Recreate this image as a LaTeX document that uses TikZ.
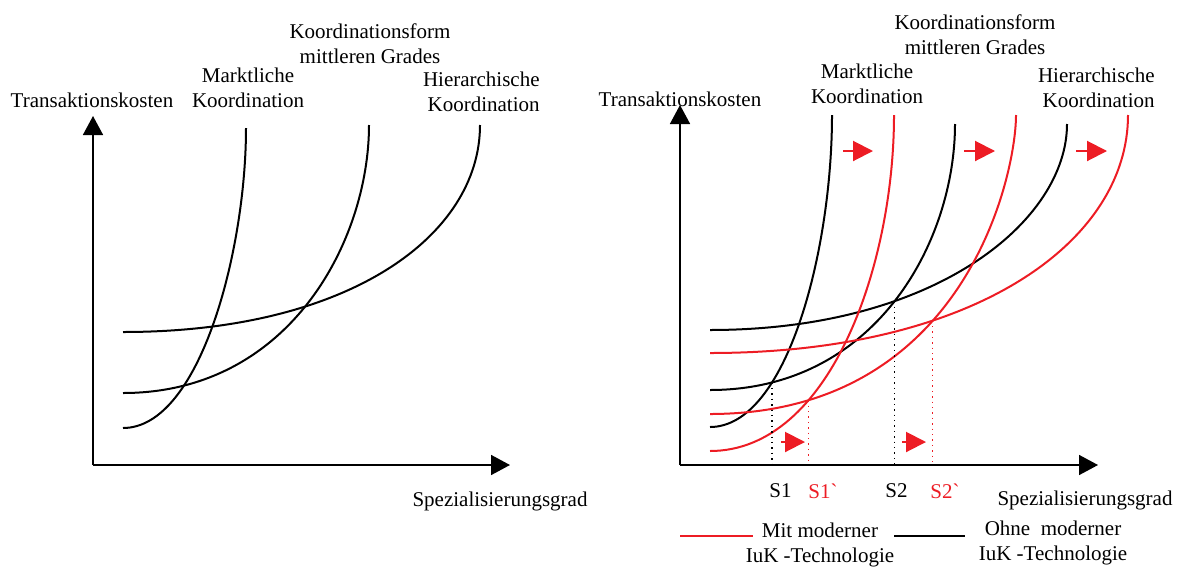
\documentclass[tikz,border=0pt]{standalone}
\usepackage{fontspec}
\setmainfont{Liberation Serif}
\usetikzlibrary{arrows.meta,positioning,intersections}
\definecolor{ikred}{RGB}{237,28,36}

\begin{document}
\begin{tikzpicture}[x=0.5pt, y=-0.5pt,
		every node/.style={font=\fontsize{10.5}{12.5}\selectfont, inner sep=0pt},
		lbl/.style={align=center},
		rlbl/.style={align=right, anchor=east},
		axis/.style={line width=0.8pt, -{Triangle[length=9.5pt, width=10pt]}},
		curve/.style={line width=1pt},
		newcurve/.style={curve, ikred},
		move/.style={ikred, line width=1pt, -{Triangle[length=10pt, width=10pt]}},
		drop/.style={dotted, line width=0.7pt},
		newdrop/.style={drop, ikred},
		tick/.style={anchor=west}
	]
		\useasboundingbox (0,0) rectangle (1181,568);

		% left: without technology
		\coordinate (o1) at (93,465);
		\coordinate (y1) at (93,116);
		\coordinate (x1) at (510,465);
		\draw[axis] (o1) -- (y1);
		\draw[axis] (o1) -- (x1);
		\draw[curve] (123,428) .. controls (200,428) and (246,250) .. (246,128);
		\draw[curve] (123,393) .. controls (290,393) and (369,240) .. (369,125);
		\draw[curve] (123,332) .. controls (350,332) and (480,235) .. (480,125);

		\node[lbl] (tk1) at (92,100) {Transaktionskosten};
		\node[lbl] (mk1) at (248,88) {Marktliche\\Koordination};
		\node[lbl] (mg1) at (370,44) {Koordinationsform\\mittleren Grades};
		\node[rlbl] (hk1) at (540,92) {Hierarchische\\Koordination};
		\node[lbl] (sg1) at (500,501) {Spezialisierungsgrad};

		% right: with and without technology
		\coordinate (o2) at (680,465);
		\coordinate (y2) at (680,105);
		\coordinate (x2) at (1098,465);
		\draw[axis] (o2) -- (y2);
		\draw[axis] (o2) -- (x2);
		\draw[curve, name path=bmarkt] (710,427) .. controls (787,427) and (832,250) .. (832,115);
		\draw[curve, name path=bmittel] (710,390) .. controls (877,390) and (955,240) .. (955,124);
		\draw[curve, name path=bhier] (710,330) .. controls (937,330) and (1067,220) .. (1067,124);
		\draw[newcurve, name path=rmarkt] (710,451) .. controls (830,451) and (894,265) .. (894,115);
		\draw[newcurve, name path=rmittel] (710,414) .. controls (965,414) and (1016,175) .. (1016,115);
		\draw[newcurve, name path=rhier] (710,353) .. controls (976,353) and (1128,241) .. (1128,115);

		\path[name intersections={of=bmarkt and bmittel, by=s1}];
		\path[name intersections={of=rmarkt and rmittel, by=s1n}];
		\path[name intersections={of=bmittel and bhier, by=s2}];
		\path[name intersections={of=rmittel and rhier, by=s2n}];
		\draw[drop] (s1) -- (s1 |- o2);
		\draw[newdrop] (s1n) -- (s1n |- o2);
		\draw[drop] (s2) -- (s2 |- o2);
		\draw[newdrop] (s2n) -- (s2n |- o2);

		\draw[move] (843,151) -- (873,151);
		\draw[move] (964,151) -- (995,151);
		\draw[move] (1076,151) -- (1107,151);
		\draw[move] (781,442) -- (805,442);
		\draw[move] (902,442) -- (926,442);

		\node[tick] (ts1) at (769,491) {S1};
		\node[tick, text=ikred] (ts1n) at (808,491) {S1\textasciigrave};
		\node[tick] (ts2) at (885,491) {S2};
		\node[tick, text=ikred] (ts2n) at (930,491) {S2\textasciigrave};

		\node[lbl] (tk2) at (680,99) {Transaktionskosten};
		\node[lbl] (mk2) at (867,84) {Marktliche\\Koordination};
		\node[lbl] (mg2) at (975,35) {Koordinationsform\\mittleren Grades};
		\node[rlbl] (hk2) at (1155,88) {Hierarchische\\Koordination};
		\node[lbl] (sg2) at (1085,500) {Spezialisierungsgrad};

		% legend
		\draw[newcurve] (680,536) -- (753,536);
		\node[lbl] (mit) at (820,545) {Mit moderner\\IuK -Technologie};
		\draw[curve] (894,536) -- (965,536);
		\node[lbl] (ohne) at (1053,543) {Ohne\ \ moderner\\IuK -Technologie};
	\end{tikzpicture}
\end{document}
